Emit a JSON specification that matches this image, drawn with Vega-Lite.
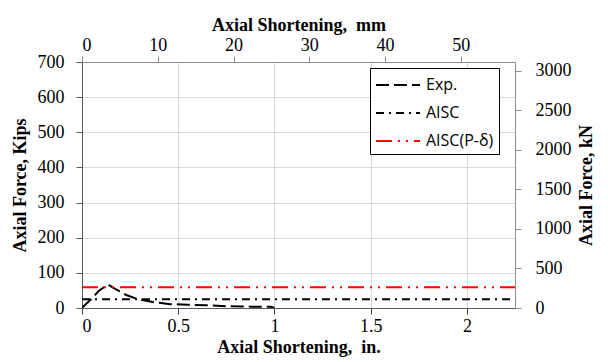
{
 "$schema": "https://vega.github.io/schema/vega-lite/v6.json",
 "width": 433,
 "height": 246,
 "autosize": {"type": "none"},
 "padding": {"left": 82, "top": 62, "right": 93, "bottom": 54},
 "config": {
  "view": {"stroke": null},
  "font": "Liberation Serif",
  "axis": {
   "labelFont": "Liberation Serif",
   "labelFontSize": 18,
   "labelColor": "black",
   "titleFont": "Liberation Serif",
   "titleFontSize": 18,
   "titleFontWeight": "bold",
   "titleColor": "black",
   "tickSize": 6,
   "gridColor": "#d9d9d9",
   "gridWidth": 1
  },
  "legend": {
   "orient": "none",
   "legendX": 288,
   "legendY": 6,
   "fillColor": "white",
   "strokeColor": "black",
   "padding": 5,
   "labelFont": "Open Sans",
   "labelFontSize": 16,
   "labelColor": "black",
   "symbolType": "M-1,0H3",
   "symbolSize": 484,
   "symbolStrokeWidth": 2,
   "rowPadding": 8,
   "labelOffset": 27
  }
 },
 "layer": [
  {
   "data": {"values": [
    {"series": "Exp.", "idx": 0, "disp": 0, "force": 0},
    {"series": "Exp.", "idx": 1, "disp": 0.045, "force": 24},
    {"series": "Exp.", "idx": 2, "disp": 0.09, "force": 50},
    {"series": "Exp.", "idx": 3, "disp": 0.135, "force": 67},
    {"series": "Exp.", "idx": 4, "disp": 0.17, "force": 55},
    {"series": "Exp.", "idx": 5, "disp": 0.23, "force": 37},
    {"series": "Exp.", "idx": 6, "disp": 0.29, "force": 25},
    {"series": "Exp.", "idx": 7, "disp": 0.38, "force": 16},
    {"series": "Exp.", "idx": 8, "disp": 0.46, "force": 11},
    {"series": "Exp.", "idx": 9, "disp": 0.55, "force": 9.5},
    {"series": "Exp.", "idx": 10, "disp": 0.65, "force": 7.5},
    {"series": "Exp.", "idx": 11, "disp": 0.76, "force": 5},
    {"series": "Exp.", "idx": 12, "disp": 0.88, "force": 3.8},
    {"series": "Exp.", "idx": 13, "disp": 0.98, "force": 3.5},
    {"series": "Exp.", "idx": 14, "disp": 1.0, "force": 1},
    {"series": "AISC", "idx": 0, "disp": 0, "force": 25},
    {"series": "AISC", "idx": 1, "disp": 2.25, "force": 25},
    {"series": "AISC(P-δ)", "idx": 0, "disp": 0, "force": 59},
    {"series": "AISC(P-δ)", "idx": 1, "disp": 2.25, "force": 59}
   ]},
   "mark": {"type": "line", "strokeWidth": 2, "clip": true},
   "encoding": {
    "x": {"field": "disp", "type": "quantitative",
     "scale": {"domain": [0, 2.25], "nice": false, "zero": false},
     "axis": {"orient": "bottom", "title": "Axial Shortening,\u00a0 in.", "values": [0, 0.5, 1, 1.5, 2], "format": "~f",
      "domainColor": "#595959", "tickColor": "#404040", "labelPadding": 3, "titlePadding": 3, "grid": true}},
    "y": {"field": "force", "type": "quantitative",
     "scale": {"domain": [0, 700], "nice": false},
     "axis": {"orient": "left", "title": "Axial Force, Kips", "values": [0, 100, 200, 300, 400, 500, 600, 700], "format": "d",
      "domainColor": "#595959", "tickColor": "#595959", "labelPadding": 12, "titlePadding": 8, "grid": true}},
    "color": {"field": "series", "type": "nominal",
     "scale": {"domain": ["Exp.", "AISC", "AISC(P-δ)"], "range": ["black", "black", "#ff0000"]},
     "legend": {"title": null}},
    "strokeDash": {"field": "series", "type": "nominal",
     "scale": {"domain": ["Exp.", "AISC", "AISC(P-δ)"], "range": [[13, 5], [8, 5, 2, 5], [16, 6, 2, 6, 2, 6]]},
     "legend": {"title": null}},
    "order": {"field": "idx", "type": "quantitative"}
   }
  },
  {
   "data": {"values": [{"mm": 0, "kN": 0}, {"mm": 57.15, "kN": 3113.8}]},
   "mark": {"type": "point", "opacity": 0},
   "encoding": {
    "x": {"field": "mm", "type": "quantitative",
     "scale": {"domain": [0, 57.15], "nice": false, "zero": false},
     "axis": {"orient": "top", "title": "Axial Shortening,\u00a0 mm", "values": [0, 10, 20, 30, 40, 50], "format": "d",
      "grid": false, "domainColor": "#8c8c8c", "tickColor": "#8c8c8c", "labelPadding": 2, "titlePadding": 2}},
    "y": {"field": "kN", "type": "quantitative",
     "scale": {"domain": [0, 3113.8], "nice": false},
     "axis": {"orient": "right", "title": "Axial Force, kN", "values": [0, 500, 1000, 1500, 2000, 2500, 3000], "format": "d",
      "grid": false, "domainColor": "#8c8c8c", "tickColor": "#8c8c8c", "labelPadding": 14, "titlePadding": 24, "titleAngle": 270}}
   }
  }
 ],
 "resolve": {"scale": {"x": "independent", "y": "independent"}}
}
